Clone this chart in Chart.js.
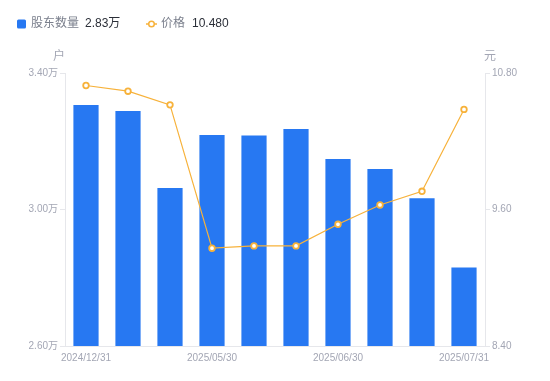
<!DOCTYPE html>
<html><head><meta charset="utf-8">
<script src="https://cdn.jsdelivr.net/npm/chart.js@4/dist/chart.umd.min.js"></script>
<style>html,body{margin:0;padding:0;background:#fff;}canvas{display:block;}</style>
</head><body>
<canvas id="c" width="550" height="381"></canvas>
<script>
const categories = ['2024/12/31','2025/03/31','2025/04/30','2025/05/30','2025/06/10','2025/06/20','2025/06/30','2025/07/10','2025/07/20','2025/07/31'];
const holders = [3.306, 3.289, 3.063, 3.218, 3.217, 3.236, 3.148, 3.119, 3.033, 2.83];
const prices = [10.69, 10.64, 10.52, 9.26, 9.28, 9.28, 9.47, 9.64, 9.76, 10.48];
const leftTicks = [2.60, 3.00, 3.40];
const rightTicks = [8.40, 9.60, 10.80];
const shownLabelIdx = [0, 3, 6, 9];

const FONT = '"Liberation Sans", "Noto Sans CJK SC", sans-serif';
const BLUE = '#2778F2';
const ORANGE = '#F7B23B';
const TICK = '#A3A6B4';

const extras = {
  id: 'extras',
  afterDraw(chart) {
    const ctx = chart.ctx;
    const a = chart.chartArea;
    ctx.save();
    ctx.font = '12px ' + FONT;
    ctx.fillStyle = TICK;
    ctx.textBaseline = 'middle';
    ctx.textAlign = 'center';
    ctx.fillText('户', a.left - 6, a.top - 16);
    ctx.fillText('元', a.right + 5, a.top - 16);
    // legend
    const ly = 24;
    ctx.fillStyle = BLUE;
    ctx.beginPath();
    ctx.roundRect(17, ly - 4.5, 9, 9, 1.5);
    ctx.fill();
    ctx.textAlign = 'left';
    ctx.font = '12px ' + FONT;
    ctx.fillStyle = '#7a7f8c';
    ctx.fillText('股东数量', 31, ly);
    ctx.fillStyle = '#2b2f38';
    ctx.fillText(holders[holders.length-1].toFixed(2) + '万', 85, ly);
    ctx.strokeStyle = ORANGE;
    ctx.lineWidth = 1.5;
    ctx.beginPath(); ctx.moveTo(146, ly); ctx.lineTo(157, ly); ctx.stroke();
    ctx.fillStyle = '#fff';
    ctx.beginPath(); ctx.arc(151.5, ly, 2.8, 0, Math.PI*2); ctx.fill(); ctx.stroke();
    ctx.fillStyle = '#7a7f8c';
    ctx.fillText('价格', 161, ly);
    ctx.fillStyle = '#2b2f38';
    ctx.fillText(prices[prices.length-1].toFixed(3), 192, ly);
    ctx.restore();
  }
};

new Chart(document.getElementById('c'), {
  data: {
    labels: categories,
    datasets: [
      {
        type: 'line', label: '价格', data: prices, yAxisID: 'y1',
        borderColor: ORANGE, borderWidth: 1.2, backgroundColor: '#fff',
        pointRadius: 2.8, pointBorderWidth: 1.8, pointBorderColor: ORANGE, pointBackgroundColor: '#fff',
        tension: 0, order: 0
      },
      {
        type: 'bar', label: '股东数量', data: holders, yAxisID: 'y',
        backgroundColor: BLUE, barPercentage: 0.6, categoryPercentage: 1.0, order: 1
      }
    ]
  },
  options: {
    responsive: false, animation: false,
    layout: { padding: { top: 73, left: 0, right: 0, bottom: 0 } },
    plugins: { legend: { display: false }, tooltip: { enabled: false } },
    scales: {
      x: {
        offset: true,
        grid: { display: true, drawOnChartArea: false, drawTicks: false },
        border: { display: true, color: '#E6E7EB', width: 1 },
        ticks: {
          autoSkip: false, maxRotation: 0, padding: 6, color: TICK,
          font: { family: FONT, size: 10 },
          callback: (v, i) => shownLabelIdx.includes(i) ? categories[i] : ''
        },
        afterFit(s) { s.height = 35; }
      },
      y: {
        position: 'left', min: 2.6, max: 3.4,
        afterBuildTicks(s) { s.ticks = leftTicks.map(v => ({ value: v })); },
        grid: { drawOnChartArea: false, drawTicks: true, tickLength: 5, color: '#E6E7EB' },
        border: { display: true, color: '#E6E7EB', width: 1 },
        ticks: { color: TICK, padding: 2, font: { family: FONT, size: 10 },
          callback: v => v.toFixed(2) + '万' },
        afterFit(s) { s.width = 65; }
      },
      y1: {
        position: 'right', min: 8.4, max: 10.8,
        afterBuildTicks(s) { s.ticks = rightTicks.map(v => ({ value: v })); },
        grid: { drawOnChartArea: false, drawTicks: true, tickLength: 5, color: '#E6E7EB' },
        border: { display: true, color: '#E6E7EB', width: 1 },
        ticks: { color: TICK, padding: 2, font: { family: FONT, size: 10 },
          callback: v => v.toFixed(2) },
        afterFit(s) { s.width = 65; }
      }
    }
  },
  plugins: [extras]
});
</script>
</body></html>
